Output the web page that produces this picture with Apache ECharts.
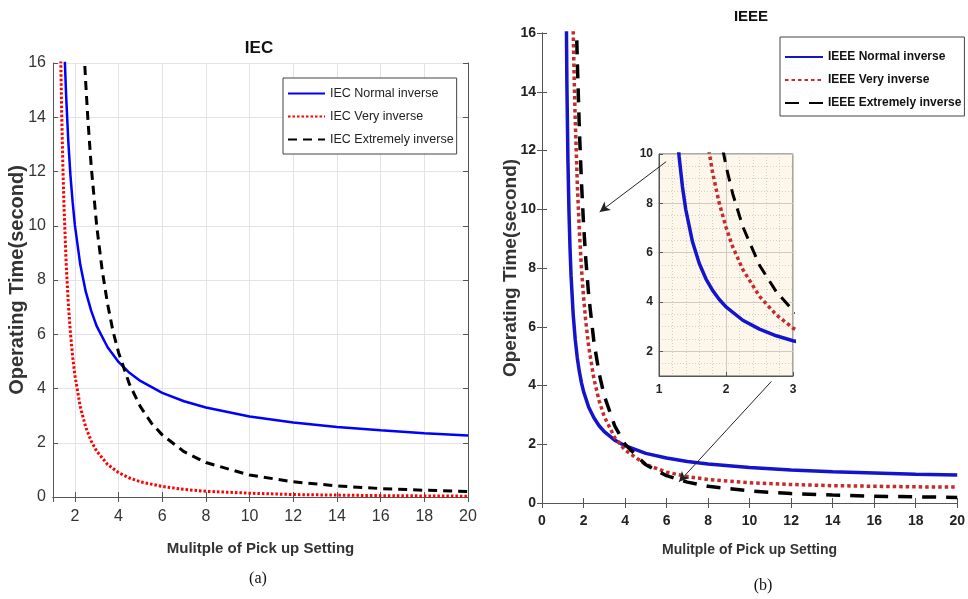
<!DOCTYPE html>
<html>
<head>
<meta charset="utf-8">
<script src="https://cdn.jsdelivr.net/npm/echarts@6/dist/echarts.min.js"></script>
<style>
html,body{margin:0;padding:0;background:#fff;}
#chart{width:968px;height:599px;}
</style>
</head>
<body>
<div id="chart"></div>
<script>
// ---- Data ----
// (a) IEC curves
const xIecNormal = [1.5,1.55,1.6,1.7,1.8,1.9,2,2.25,2.5,2.75,3,3.5,4,4.5,5,6,7,8,10,12,14,16,18,20];
const yIecNormal = [17.19,15.90,14.82,13.12,11.84,10.87,10.03,8.56,7.57,6.86,6.30,5.52,4.98,4.58,4.28,3.84,3.53,3.30,2.97,2.75,2.58,2.46,2.35,2.27];
const xIecVery = [1.3,1.35,1.4,1.45,1.5,1.6,1.7,1.8,1.9,2,2.25,2.5,2.75,3,3.5,4,4.5,5,6,7,8,10,12,14,16,18,20];
const yIecVery = [19.57,16.41,14.06,12.25,10.8,8.65,7.14,6.03,5.17,4.5,3.32,2.57,2.06,1.69,1.2,0.9,0.70,0.56,0.39,0.28,0.21,0.14,0.09,0.07,0.05,0.04,0.03];
const xIecExt = [2.3,2.4,2.5,2.6,2.75,3,3.25,3.5,3.75,4,4.5,5,5.5,6,7,8,10,12,14,16,18,20];
const yIecExt = [18.65,16.8,15.24,13.89,12.19,10,8.37,7.11,6.10,5.33,4.16,3.33,2.73,2.29,1.67,1.27,0.81,0.56,0.41,0.31,0.25,0.20];
// (b) IEEE curves
const xIeeeNormal = [1.15,1.2,1.25,1.3,1.35,1.4,1.5,1.6,1.7,1.8,1.9,2,2.25,2.5,2.75,3,3.5,4,5,6,7,8,10,12,14,16,18,20];
const yIeeeNormal = [18.51,14.21,11.63,9.90,8.67,7.74,6.44,5.57,4.94,4.47,4.10,3.80,3.26,2.90,2.63,2.43,2.14,1.95,1.69,1.53,1.41,1.33,1.21,1.12,1.06,1.02,0.98,0.95];
const xIeeeVery = [1.45,1.5,1.55,1.6,1.7,1.8,1.9,2,2.1,2.25,2.5,2.75,3,3.5,4,5,6,7,8,10,12,14,16,18,20];
const yIeeeVery = [18.28,16.18,14.47,13.06,10.87,9.24,8.00,7.03,6.24,5.32,4.23,3.48,2.94,2.23,1.80,1.31,1.05,0.90,0.80,0.69,0.63,0.59,0.57,0.55,0.54];
const xIeeeExt = [1.6,1.65,1.7,1.8,1.9,2,2.1,2.25,2.5,2.75,3,3.5,4,5,6,7,8,10,12,14,16,18,20];
const yIeeeExt = [18.2,16.49,15.04,12.71,10.93,9.52,8.39,7.06,5.49,4.42,3.65,2.63,2.00,1.30,0.93,0.71,0.57,0.41,0.32,0.27,0.23,0.21,0.19];
// annotation arrows in panel (b), data units [start, end]
const arrowTop = [[5.98, 11.62], [2.78, 9.91]];
const arrowBottom = [[11.05, 4.14], [6.6, 0.72]];

const namesIec = ['IEC Normal inverse','IEC Very inverse','IEC Extremely inverse'];
const namesIeee = ['IEEE Normal inverse','IEEE Very inverse','IEEE Extremely inverse'];

function pairs(xs, ys){ return xs.map((x,i)=>[x, ys[i]]); }

const SANS = "'Liberation Sans',Arial,Helvetica,sans-serif";
const SERIF = "'Liberation Serif','Times New Roman',serif";

const chart = echarts.init(document.getElementById('chart'), null, {renderer:'canvas'});

function mirrorX(gridIndex, min, max, opts){
  return Object.assign({
    type:'value', gridIndex, position:'top', min, max,
    axisLine:{show:true, lineStyle:{color:'#555', width:1}},
    axisTick:{show:true, inside:true, length:5, lineStyle:{color:'#555'}},
    axisLabel:{show:false}, splitLine:{show:false}
  }, opts||{});
}
function mirrorY(gridIndex, min, max, opts){
  return Object.assign({
    type:'value', gridIndex, position:'right', min, max,
    axisLine:{show:true, lineStyle:{color:'#555', width:1}},
    axisTick:{show:true, inside:true, length:5, lineStyle:{color:'#555'}},
    axisLabel:{show:false}, splitLine:{show:false}
  }, opts||{});
}
function lineSeries(name, xi, yi, xs, ys, ls){
  return {name, type:'line', xAxisIndex:xi, yAxisIndex:yi, data:pairs(xs,ys),
    showSymbol:false, symbol:'none', smooth:false, clip:true,
    lineStyle:ls, itemStyle:{color:ls.color}};
}

const option = {
  backgroundColor:'#ffffff',
  animation:false,
  grid:[
    {left:53, top:63, width:415, height:434, containLabel:false},
    {left:542, top:33, width:419, height:470, containLabel:false},
    {left:659, top:154, width:134, height:222, containLabel:false, show:true,
      backgroundColor:'#fcf7ea', borderColor:'#555', borderWidth:1}
  ],
  legend:[
    {
      orient:'vertical', left:283, top:78, itemWidth:37, itemHeight:14, itemGap:10,
      padding:[9,3,8,4], borderColor:'#444', borderWidth:1, backgroundColor:'#fff',
      itemStyle:{opacity:0},
      textStyle:{fontFamily:SANS, fontSize:12.5, color:'#222'},
      data:namesIec
    },
    {
      orient:'vertical', left:780, top:37, itemWidth:38, itemHeight:14, itemGap:11,
      padding:[14,3,7,4], borderColor:'#444', borderWidth:1, backgroundColor:'#fff',
      itemStyle:{opacity:0},
      textStyle:{fontFamily:SANS, fontSize:12, fontWeight:'bold', color:'#111'},
      data:namesIeee
    }
  ],
  xAxis:[
    { // 0: IEC bottom
      type:'value', gridIndex:0, min:1, max:20, minInterval:2, maxInterval:2, splitNumber:10,
      name:'Mulitple of Pick up Setting', nameLocation:'middle', nameGap:44, nameMoveOverlap:false,
      nameTextStyle:{fontFamily:SANS, fontSize:15, fontWeight:'bold', color:'#333'},
      axisLine:{show:true, lineStyle:{color:'#555'}},
      axisTick:{show:true, inside:true, length:5, lineStyle:{color:'#555'}},
      axisLabel:{showMinLabel:false, margin:12, fontFamily:SANS, fontSize:16, color:'#333'},
      splitLine:{show:true, lineStyle:{color:'#e3e3e3', width:1}}
    },
    mirrorX(0, 1, 20, {minInterval:2, maxInterval:2, splitNumber:10}),
    { // 2: IEEE bottom
      type:'value', gridIndex:1, min:0, max:20, interval:2,
      name:'Mulitple of Pick up Setting', nameLocation:'middle', nameGap:40, nameMoveOverlap:false,
      nameTextStyle:{fontFamily:SANS, fontSize:14, fontWeight:'bold', color:'#333'},
      axisLine:{show:true, lineStyle:{color:'#555'}},
      axisTick:{show:true, inside:true, length:5, lineStyle:{color:'#555'}},
      axisLabel:{margin:11, fontFamily:SANS, fontSize:14, fontWeight:'bold', color:'#222'},
      splitLine:{show:false}
    },
    mirrorX(1, 0, 20, {interval:2}),
    { // 4: inset
      type:'value', gridIndex:2, min:1, max:3, interval:1,
      axisLine:{show:true, lineStyle:{color:'#555'}},
      axisTick:{show:true, inside:true, length:4, lineStyle:{color:'#555'}},
      axisLabel:{margin:8, fontFamily:SANS, fontSize:12, fontWeight:'bold', color:'#222'},
      splitLine:{show:true, lineStyle:{color:'#cfcbc0', width:1}},
      minorTick:{show:false, splitNumber:5},
      minorSplitLine:{show:true, lineStyle:{color:'#d3cfc3', type:[1,2], width:1}}
    }
  ],
  yAxis:[
    { // 0: IEC left
      type:'value', gridIndex:0, min:0, max:16, interval:2,
      name:'Operating Time(second)', nameLocation:'middle', nameGap:26, nameRotate:90, nameMoveOverlap:false,
      nameTextStyle:{fontFamily:SANS, fontSize:20, fontWeight:'bold', color:'#333'},
      axisLine:{show:true, lineStyle:{color:'#555'}},
      axisTick:{show:true, inside:true, length:5, lineStyle:{color:'#555'}},
      axisLabel:{margin:7, fontFamily:SANS, fontSize:16, color:'#333'},
      splitLine:{show:true, lineStyle:{color:'#e3e3e3', width:1}}
    },
    mirrorY(0, 0, 16, {interval:2}),
    { // 2: IEEE left
      type:'value', gridIndex:1, min:0, max:16, interval:2,
      name:'Operating Time(second)', nameLocation:'middle', nameGap:22, nameRotate:90, nameMoveOverlap:false,
      nameTextStyle:{fontFamily:SANS, fontSize:19, fontWeight:'bold', color:'#333'},
      axisLine:{show:true, lineStyle:{color:'#555'}},
      axisTick:{show:true, inside:true, length:5, lineStyle:{color:'#555'}},
      axisLabel:{margin:6, fontFamily:SANS, fontSize:14, fontWeight:'bold', color:'#222'},
      splitLine:{show:false}
    },
    mirrorY(1, 0, 16, {interval:2}),
    { // 4: inset
      type:'value', gridIndex:2, min:1, max:10, minInterval:2, maxInterval:2, splitNumber:5,
      axisLine:{show:true, lineStyle:{color:'#555'}},
      axisTick:{show:true, inside:true, length:4, lineStyle:{color:'#555'}},
      axisLabel:{showMinLabel:false, margin:6, fontFamily:SANS, fontSize:12, fontWeight:'bold', color:'#222'},
      splitLine:{show:true, lineStyle:{color:'#cfcbc0', width:1}},
      minorTick:{show:false, splitNumber:4},
      minorSplitLine:{show:true, lineStyle:{color:'#d3cfc3', type:[1,2], width:1}}
    }
  ],
  series:[
    // (a) IEC
    lineSeries(namesIec[0], 0, 0, xIecNormal, yIecNormal, {color:'#0000ff', width:2.5}),
    lineSeries(namesIec[1], 0, 0, xIecVery, yIecVery, {color:'#ff0000', width:3, type:[2.5,2]}),
    lineSeries(namesIec[2], 0, 0, xIecExt, yIecExt, {color:'#000000', width:3, type:[9,6]}),
    // (b) IEEE main
    Object.assign(lineSeries(namesIeee[0], 2, 2, xIeeeNormal, yIeeeNormal, {color:'#1414cc', width:3.5}), {
      markLine:{silent:true, symbol:['none','arrow'], symbolSize:[8,10], label:{show:false},
        lineStyle:{color:'#222', width:1, type:'solid'},
        data:[
          [{coord:arrowTop[0]},{coord:arrowTop[1]}],
          [{coord:arrowBottom[0]},{coord:arrowBottom[1]}]
        ]}
    }),
    lineSeries(namesIeee[1], 2, 2, xIeeeVery, yIeeeVery, {color:'#c62a2a', width:3.5, type:[3.5,3]}),
    lineSeries(namesIeee[2], 2, 2, xIeeeExt, yIeeeExt, {color:'#000000', width:3.5, type:[14,10]}),
    // (b) inset
    lineSeries(namesIeee[0], 4, 4, xIeeeNormal, yIeeeNormal, {color:'#1414cc', width:3.5}),
    lineSeries(namesIeee[1], 4, 4, xIeeeVery, yIeeeVery, {color:'#c62a2a', width:3.5, type:[3.5,3]}),
    lineSeries(namesIeee[2], 4, 4, xIeeeExt, yIeeeExt, {color:'#000000', width:3, type:[12,8]})
  ],
  graphic:[
    {type:'text', x:259, y:48, style:{text:'IEC', fontFamily:SANS, fontSize:17, fontWeight:'bold', fill:'#111', align:'center', verticalAlign:'middle'}},
    {type:'text', x:751, y:17, style:{text:'IEEE', fontFamily:SANS, fontSize:15, fontWeight:'bold', fill:'#111', align:'center', verticalAlign:'middle'}},
    {type:'text', x:258, y:579, style:{text:'(a)', fontFamily:SERIF, fontSize:16, fill:'#111', align:'center', verticalAlign:'middle'}},
    {type:'text', x:763, y:586, style:{text:'(b)', fontFamily:SERIF, fontSize:16, fill:'#111', align:'center', verticalAlign:'middle'}}
  ]
};
chart.setOption(option);
</script>
</body>
</html>
